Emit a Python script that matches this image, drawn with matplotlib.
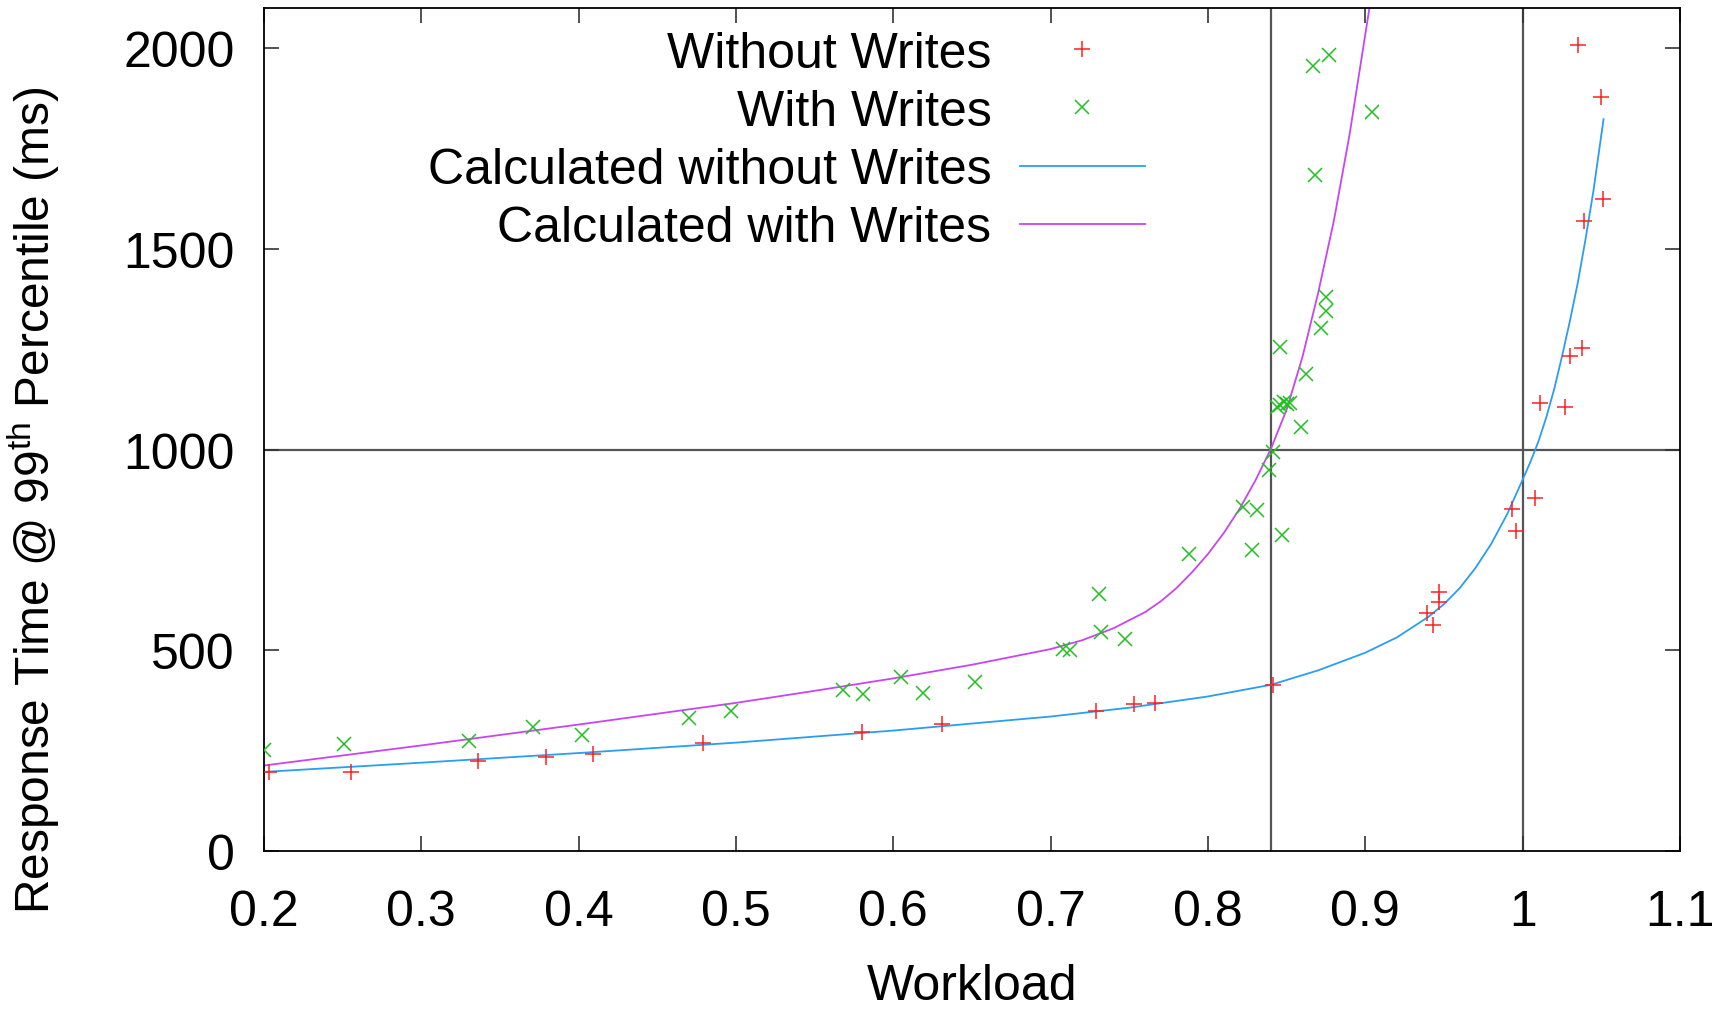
import matplotlib
matplotlib.use("Agg")
import matplotlib.pyplot as plt

plt.rcParams['font.family'] = ['Liberation Sans', 'DejaVu Sans']

without_x = [0.203, 0.255, 0.336, 0.379, 0.409, 0.479, 0.580, 0.631, 0.729, 0.753,
             0.766, 0.841, 0.939, 0.943, 0.947, 0.947, 0.993, 0.996, 1.008, 1.011,
             1.027, 1.030, 1.038, 1.039, 1.035, 1.051, 1.050]
without_y = [198, 196, 223, 233, 242, 270, 296, 317, 348, 365,
             368, 414, 593, 562, 620, 645, 851, 796, 880, 1116,
             1106, 1234, 1252, 1569, 2007, 1624, 1878]

with_x = [0.200, 0.251, 0.330, 0.371, 0.402, 0.470, 0.497, 0.568, 0.581, 0.605,
          0.619, 0.652, 0.708, 0.712, 0.731, 0.732, 0.747, 0.788, 0.822, 0.828,
          0.831, 0.839, 0.841, 0.844, 0.846, 0.848, 0.850, 0.852, 0.846, 0.847,
          0.859, 0.862, 0.872, 0.875, 0.875, 0.867, 0.868, 0.877, 0.904]
with_y = [252, 266, 275, 310, 290, 331, 350, 400, 392, 433,
          394, 422, 504, 500, 641, 545, 527, 740, 857, 751,
          850, 948, 995, 1105, 1110, 1118, 1113, 1116, 1255, 786,
          1056, 1188, 1302, 1346, 1381, 1956, 1684, 1983, 1842]

# calculated model curves
calc_without_x = [0.20, 0.30, 0.40, 0.50, 0.60, 0.70, 0.75, 0.80, 0.84, 0.87,
                  0.90, 0.92, 0.94, 0.95, 0.96, 0.97, 0.98, 0.99, 1.00, 1.005,
                  1.01, 1.015, 1.02, 1.025, 1.03, 1.035, 1.04, 1.045, 1.0514]
calc_without_y = [197, 220, 244, 270, 300, 335, 357, 385, 414, 450,
                  494, 532, 583, 615, 655, 705, 765, 838, 925, 970,
                  1020, 1080, 1150, 1232, 1320, 1415, 1525, 1645, 1823]

calc_with_x = [0.20, 0.30, 0.40, 0.50, 0.55, 0.60, 0.65, 0.70, 0.72, 0.74,
               0.76, 0.77, 0.78, 0.79, 0.80, 0.81, 0.82, 0.83, 0.84, 0.85,
               0.86, 0.87, 0.88, 0.89, 0.90, 0.903]
calc_with_y = [213, 263, 315, 369, 399, 430, 464, 503, 525, 555,
               595, 622, 655, 695, 740, 792, 852, 922, 1002, 1100,
               1230, 1390, 1570, 1785, 2035, 2110]

x_ticks = [0.2, 0.3, 0.4, 0.5, 0.6, 0.7, 0.8, 0.9, 1.0, 1.1]
x_tick_labels = ['0.2', '0.3', '0.4', '0.5', '0.6', '0.7', '0.8', '0.9', '1', '1.1']
y_ticks = [0, 500, 1000, 1500, 2000]
ref_x = [0.84, 1.0]
ref_y = [1000]

FS = 36

fig = plt.figure(figsize=(17.31, 10.2), dpi=100)
ax = fig.add_axes([264 / 1731, 1 - 852 / 1020, (1680 - 264) / 1731, (852 - 9) / 1020])

# reference lines
for v in ref_x:
    ax.axvline(v, color='#555555', lw=1.6, zorder=1)
for v in ref_y:
    ax.axhline(v, color='#555555', lw=1.6, zorder=1)

ax.plot(without_x, without_y, linestyle='none', marker='+', ms=11, mew=1.1,
        color='#ff2020', label='Without Writes', zorder=3)
ax.plot(with_x, with_y, linestyle='none', marker='x', ms=10, mew=1.1,
        color='#20c020', label='With Writes', zorder=3)
ax.plot(calc_without_x, calc_without_y, color='#2a9df4', lw=1.3,
        label='Calculated without Writes', zorder=2)
ax.plot(calc_with_x, calc_with_y, color='#c845f5', lw=1.3,
        label='Calculated with Writes', zorder=2)

ax.set_xlim(0.2, 1.1)
ax.set_ylim(0, 2100)
ax.set_xticks(x_ticks)
ax.set_xticklabels(x_tick_labels)
ax.set_yticks(y_ticks)
ax.tick_params(direction='in', length=10.5, width=1.2, color='#333333',
               top=True, right=True, labelsize=FS)
ax.tick_params(axis='x', pad=27.5)
ax.tick_params(axis='y', pad=21)
for s in ax.spines.values():
    s.set_linewidth(1.3)

ax.set_xlabel('Workload', fontsize=FS)
ax.xaxis.set_label_coords(0.5, -0.133)
ax.set_ylabel('Response Time @ 99$^{\\mathregular{th}}$ Percentile (ms)', fontsize=34.5)
ax.yaxis.set_label_coords(-0.1427, 0.4176)

ax.legend(loc='upper right', bbox_to_anchor=(1170 / 1731, 0.9936),
          bbox_transform=fig.transFigure, frameon=False, markerfirst=False,
          numpoints=1, fontsize=FS, borderpad=0, labelspacing=0.246,
          handlelength=2.5, handletextpad=0.57)

plt.savefig('out.png', dpi=100)
